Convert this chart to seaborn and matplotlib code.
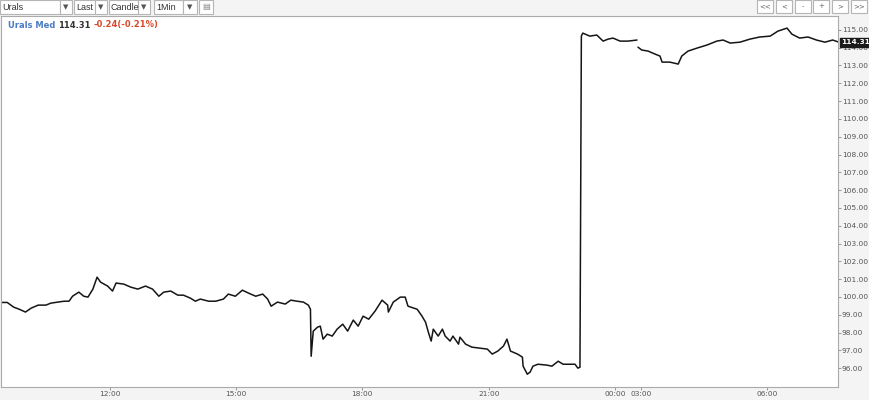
import matplotlib
matplotlib.use("Agg")

import pandas as pd
import matplotlib.pyplot as plt
import matplotlib.transforms as mtransforms
from matplotlib.patches import Rectangle
import seaborn as sns

# Urals Med, 1-minute chart, prices
day_times = [
    "09:25", "09:34", "09:43", "09:51", "10:00", "10:08", "10:18", "10:29", "10:36", "10:46",
    "10:55", "11:02", "11:07", "11:16", "11:23", "11:29", "11:36", "11:42", "11:47", "11:57",
    "12:04", "12:09", "12:20", "12:30", "12:40", "12:51", "13:01", "13:10", "13:17", "13:27",
    "13:37", "13:45", "13:55", "14:02", "14:09", "14:21", "14:31", "14:42", "14:49", "14:59",
    "15:09", "15:18", "15:28", "15:38", "15:45", "15:50", "15:59", "16:10", "16:18", "16:27",
    "16:36", "16:43", "16:46", "16:47", "16:50", "16:56", "17:00", "17:04", "17:10", "17:17",
    "17:24", "17:32", "17:39", "17:47", "17:54", "18:01", "18:09", "18:18", "18:28", "18:36",
    "18:37", "18:44", "18:54", "19:01", "19:05", "19:18", "19:25", "19:30", "19:34", "19:38",
    "19:41", "19:48", "19:54", "19:58", "20:05", "20:09", "20:17", "20:19", "20:27", "20:36",
    "20:48", "20:58", "21:05", "21:13", "21:21", "21:26", "21:31", "21:41", "21:48", "21:49",
    "21:55", "21:59", "22:03", "22:10", "22:23", "22:30", "22:39", "22:46", "22:56", "23:03",
    "23:07", "23:10", "23:12", "23:14", "23:24", "23:34", "23:43", "23:50", "23:57", "00:35",
    "01:30", "02:32",
]
day_prices = [
    99.69, 99.69, 99.43, 99.31, 99.15, 99.37, 99.54, 99.54, 99.65, 99.71,
    99.76, 99.76, 100.04, 100.27, 100.04, 99.99, 100.44, 101.11, 100.83, 100.61,
    100.33, 100.78, 100.72, 100.55, 100.44, 100.61, 100.44, 100.04, 100.27, 100.33,
    100.10, 100.10, 99.93, 99.76, 99.88, 99.76, 99.76, 99.88, 100.16, 100.04,
    100.38, 100.21, 100.04, 100.16, 99.88, 99.48, 99.71, 99.60, 99.82, 99.76,
    99.71, 99.54, 99.31, 96.67, 98.08, 98.30, 98.36, 97.63, 97.91, 97.80,
    98.19, 98.47, 98.08, 98.70, 98.36, 98.92, 98.75, 99.20, 99.82, 99.54,
    99.15, 99.71, 99.99, 99.99, 99.48, 99.31, 98.92, 98.58, 98.02, 97.52,
    98.19, 97.80, 98.19, 97.80, 97.52, 97.80, 97.35, 97.74, 97.35, 97.18,
    97.12, 97.07, 96.79, 96.96, 97.24, 97.63, 96.96, 96.79, 96.62, 96.11,
    95.66, 95.78, 96.11, 96.22, 96.17, 96.11, 96.39, 96.22, 96.22, 96.22,
    96.00, 96.05, 114.65, 114.82, 114.65, 114.71, 114.37, 114.48, 114.54, 114.37,
    114.37, 114.43,
]
morning_times = [
    "02:39", "03:01", "03:10", "03:20", "03:27", "03:30", "03:41", "03:53", "03:58", "04:07",
    "04:20", "04:34", "04:48", "04:57", "05:07", "05:21", "05:35", "05:49", "06:04", "06:15",
    "06:28", "06:35", "06:46", "06:58", "07:10", "07:22", "07:33", "07:42",
]
morning_prices = [
    114.03, 113.87, 113.81, 113.64, 113.53, 113.19, 113.19, 113.08, 113.53, 113.81,
    113.98, 114.15, 114.37, 114.43, 114.26, 114.31, 114.48, 114.60, 114.65, 114.93,
    115.10, 114.76, 114.54, 114.60, 114.43, 114.31, 114.43, 114.31,
]

tick_times = ["12:00", "15:00", "18:00", "21:00", "00:00", "03:00", "06:00"]
y_ticks = list(range(96, 116))

symbol = "Urals Med"
last_price = 114.31
change_text = "-0.24(-0.21%)"

NIGHT_WIDTH = 0.617  # axis room the chart gives to 00:00-03:00


def axis_pos(clock):
    h, m = clock.split(":")
    t = int(h) + int(m) / 60
    if t < 9:
        t += 24
    if t <= 24:
        return t
    if t <= 27:
        return 24 + (t - 24) * NIGHT_WIDTH / 3
    return t - 3 + NIGHT_WIDTH


df = pd.DataFrame({
    "pos": [axis_pos(t) for t in day_times + morning_times],
    "price": day_prices + morning_prices,
    "session": [0] * len(day_times) + [1] * len(morning_times),
})

sns.set_style("white")
plt.rcParams["font.family"] = ["DejaVu Sans"]

W, H = 870, 400
fig = plt.figure(figsize=(W / 100, H / 100), dpi=100, facecolor="#f4f4f4")


def px(x, y):
    return x / W, 1 - y / H


ax = fig.add_axes([0.001, 0.032, 0.962, 0.928])
ax.set_facecolor("white")

sns.lineplot(data=df, x="pos", y="price", units="session", estimator=None,
             color="#151515", linewidth=1.1, ax=ax)

ax.set_xlim(9.415, 29.29)
ax.set_ylim(94.93, 115.78)
ax.set_xlabel("")
ax.set_ylabel("")

ax.yaxis.tick_right()
ax.set_yticks(y_ticks)
ax.set_yticklabels([f"{v:.2f}" for v in y_ticks])
ax.set_xticks([axis_pos(t) for t in tick_times])
ax.set_xticklabels(tick_times)
ax.tick_params(axis="both", labelsize=5.3, labelcolor="#555555", color="#888888",
               length=2, width=0.6, pad=1)
ax.tick_params(axis="x", pad=0.5)
ax.tick_params(axis="y", right=True, left=False)
ax.tick_params(axis="x", bottom=True)
for side, sp in ax.spines.items():
    sp.set_color("#aaaaaa")
    sp.set_linewidth(0.8)

# last price marker on the right axis
trans = mtransforms.blended_transform_factory(ax.transAxes, ax.transData)
ax.text(1.004, last_price, f"{last_price:.2f}", transform=trans, fontsize=5.3,
        color="white", fontweight="bold", va="center", ha="left",
        bbox=dict(boxstyle="square,pad=0.2", fc="#1a1a1a", ec="#1a1a1a"))

# header inside the chart, pieces placed one after the other
renderer = fig.canvas.get_renderer()
x_cur = 8
for piece, col in [(symbol, "#4a7cc4"), (f"{last_price:.2f}", "#333333"), (change_text, "#d9482b")]:
    t = fig.text(*px(x_cur, 25), piece, fontsize=6, color=col, fontweight="bold", va="center")
    x_cur += t.get_window_extent(renderer).width + 3


# toolbar along the top
def box(x0, x1, y0=0, y1=14):
    fig.add_artist(Rectangle(px(x0, y1), (x1 - x0) / W, (y1 - y0) / H,
                             transform=fig.transFigure, fc="white", ec="#b5b5b5", lw=0.8))


combos = [("Urals", 0, 60, 72), ("Last", 74, 95, 107), ("Candle", 109, 138, 150), ("1Min", 154, 183, 197)]
for label, x0, xb, x1 in combos:
    box(x0, xb)
    box(xb, x1)
    fig.text(*px(x0 + 2, 7), label, fontsize=6.5, color="#333333", va="center",
             family=["Liberation Sans", "DejaVu Sans"])
    fig.text(*px((xb + x1) / 2, 7), "▼", fontsize=5, color="#555555", va="center", ha="center")
box(199, 213)
fig.text(*px(206, 7), "▤", fontsize=6, color="#888888", va="center", ha="center")

buttons = ["<<", "<", "-", "+", ">", ">>"]
for i, b in enumerate(buttons):
    x0 = 757 + i * 18.8
    box(x0, x0 + 16, 0, 13)
    fig.text(*px(x0 + 8, 6.5), b, fontsize=5, color="#666666", va="center", ha="center")

plt.savefig("out.png", dpi=100, facecolor=fig.get_facecolor())
plt.close()
